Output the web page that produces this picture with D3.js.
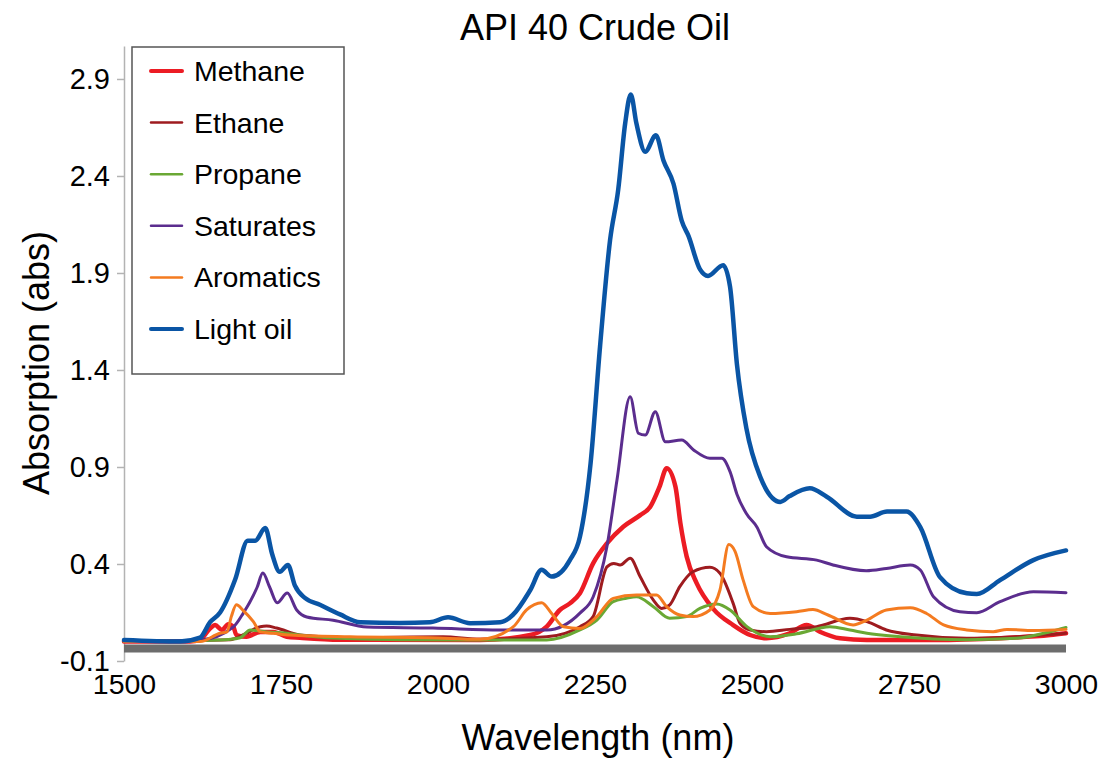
<!DOCTYPE html>
<html>
<head>
<meta charset="utf-8">
<script src="https://cdn.jsdelivr.net/npm/d3@7"></script>
<style>
  html, body { margin: 0; padding: 0; background: #fff; }
  svg { display: block; font-family: "Liberation Sans", Arial, sans-serif; }
</style>
</head>
<body>
<svg id="chart" width="1106" height="761"></svg>
<script>
// Absorption spectra, API 40 crude oil and its components: [wavelength nm, absorbance]
const methane = [
  [1500,0.0],[1605,0.0],[1621,0.01],[1637,0.068],[1645,0.086],[1656,0.06],[1666,0.09],
  [1674,0.077],[1679,0.034],[1695,0.025],[1717,0.05],[1738,0.05],[1759,0.025],[1780,0.02],
  [1844,0.01],[2067,0.008],[2147,0.034],[2173,0.077],[2194,0.163],[2210,0.197],[2226,0.249],
  [2247,0.403],[2269,0.506],[2295,0.592],[2322,0.652],[2338,0.695],[2353,0.80],[2364,0.893],
  [2378,0.80],[2386,0.61],[2396,0.438],[2412,0.30],[2438,0.17],[2470,0.085],[2497,0.034],
  [2523,0.017],[2560,0.043],[2587,0.086],[2608,0.051],[2640,0.017],[2683,0.008],[2788,0.008],
  [2895,0.017],[2975,0.034],[3000,0.043]
];
const ethane = [
  [1500,0.0],[1669,0.01],[1693,0.04],[1717,0.077],[1727,0.08],[1743,0.07],[1780,0.034],
  [1860,0.02],[2008,0.025],[2067,0.012],[2173,0.025],[2226,0.077],[2247,0.129],[2269,0.385],
  [2280,0.403],[2290,0.395],[2306,0.43],[2322,0.334],[2343,0.214],[2356,0.171],[2369,0.189],
  [2385,0.283],[2406,0.36],[2433,0.383],[2449,0.352],[2470,0.197],[2481,0.094],[2497,0.06],
  [2523,0.051],[2560,0.063],[2603,0.077],[2656,0.12],[2683,0.103],[2714,0.06],[2762,0.034],
  [2842,0.017],[2921,0.025],[3000,0.043]
];
const propane = [
  [1500,0.0],[1653,0.008],[1685,0.02],[1701,0.06],[1727,0.05],[1759,0.043],[1780,0.034],
  [1833,0.018],[1939,0.01],[2067,0.008],[2173,0.008],[2226,0.06],[2253,0.111],[2279,0.206],
  [2300,0.223],[2316,0.231],[2343,0.18],[2369,0.12],[2396,0.129],[2417,0.171],[2444,0.194],
  [2465,0.163],[2492,0.077],[2529,0.025],[2571,0.04],[2624,0.077],[2656,0.06],[2683,0.043],
  [2736,0.025],[2842,0.01],[2921,0.017],[2975,0.051],[3000,0.073]
];
const saturates = [
  [1500,0.0],[1621,0.008],[1674,0.075],[1690,0.147],[1712,0.28],[1721,0.353],[1732,0.28],
  [1744,0.20],[1760,0.25],[1775,0.163],[1791,0.127],[1833,0.11],[1887,0.075],[1992,0.07],
  [2099,0.06],[2173,0.06],[2226,0.147],[2247,0.23],[2269,0.49],[2285,0.833],[2306,1.262],
  [2319,1.074],[2330,1.065],[2346,1.185],[2362,1.03],[2388,1.039],[2407,0.988],[2433,0.945],
  [2452,0.945],[2465,0.876],[2476,0.76],[2491,0.66],[2508,0.59],[2523,0.489],[2555,0.437],
  [2603,0.42],[2629,0.395],[2682,0.365],[2714,0.377],[2752,0.395],[2768,0.369],[2789,0.231],
  [2831,0.154],[2858,0.149],[2895,0.206],[2948,0.257],[3000,0.252]
];
const aromatics = [
  [1500,0.0],[1621,0.0],[1653,0.043],[1664,0.05],[1671,0.13],[1679,0.19],[1690,0.16],
  [1706,0.103],[1717,0.05],[1738,0.043],[1764,0.034],[1860,0.025],[1987,0.02],[2067,0.012],
  [2120,0.077],[2141,0.163],[2165,0.2],[2181,0.145],[2200,0.077],[2226,0.068],[2253,0.129],
  [2279,0.223],[2316,0.24],[2348,0.24],[2364,0.18],[2385,0.137],[2406,0.129],[2433,0.163],
  [2449,0.266],[2463,0.50],[2473,0.465],[2486,0.317],[2502,0.18],[2529,0.145],[2571,0.154],
  [2597,0.165],[2621,0.137],[2661,0.086],[2683,0.111],[2714,0.163],[2752,0.175],[2778,0.145],
  [2805,0.086],[2842,0.06],[2884,0.051],[2906,0.063],[2948,0.057],[3000,0.063]
];
const lightOil = [
  [1500,0.008],[1589,0.0],[1621,0.02],[1637,0.10],[1653,0.15],[1677,0.32],[1697,0.52],
  [1709,0.52],[1725,0.585],[1736,0.45],[1748,0.36],[1761,0.395],[1772,0.29],[1788,0.225],
  [1812,0.19],[1844,0.14],[1876,0.10],[1939,0.096],[1987,0.10],[2016,0.125],[2051,0.095],
  [2099,0.10],[2119,0.137],[2147,0.266],[2165,0.37],[2181,0.335],[2210,0.42],[2226,0.54],
  [2243,0.92],[2258,1.52],[2274,2.07],[2287,2.33],[2298,2.67],[2307,2.82],[2316,2.67],
  [2330,2.525],[2347,2.61],[2359,2.48],[2375,2.36],[2388,2.17],[2399,2.09],[2417,1.92],
  [2430,1.885],[2454,1.94],[2465,1.83],[2476,1.43],[2491,1.10],[2513,0.85],[2545,0.72],
  [2560,0.75],[2592,0.79],[2619,0.747],[2667,0.644],[2688,0.644],[2715,0.67],[2746,0.67],
  [2768,0.59],[2799,0.334],[2842,0.249],[2858,0.245],[2895,0.317],[2948,0.42],[3000,0.47]
];
// Instrument reference level drawn as a flat band under the spectra
const baseline = [[1500,-0.035],[3000,-0.035]];

const seriesNames = ["Methane","Ethane","Propane","Saturates","Aromatics","Light oil"];
const seriesData = [methane, ethane, propane, saturates, aromatics, lightOil];
const seriesColors = ["#ec1c24","#9e1b1f","#6aa834","#5b2d8e","#f47b20","#0a55a5"];
const seriesWidths = [4.5, 3, 3, 3, 3, 4.5];

const xTicks = [1500,1750,2000,2250,2500,2750,3000];
const yTicks = [-0.1,0.4,0.9,1.4,1.9,2.4,2.9];

const svg = d3.select("#chart");
const x = d3.scaleLinear().domain([1500,3000]).range([124,1066]);
const y = d3.scaleLinear().domain([-0.1,3.07]).range([661,46]);

// Title
svg.append("text").attr("x",595).attr("y",40).attr("text-anchor","middle")
  .attr("font-size",36).attr("fill","#000").text("API 40 Crude Oil");

// Y axis
const yAxis = svg.append("g").attr("transform","translate(124,0)")
  .call(d3.axisLeft(y).tickValues(yTicks).tickFormat(d => d.toFixed(1))
        .tickSize(7).tickSizeOuter(0).tickPadding(7));
yAxis.select(".domain").attr("stroke","#b3b3b3").attr("stroke-width",1.5);
yAxis.selectAll(".tick line").attr("stroke","#b3b3b3").attr("stroke-width",1.5);
yAxis.selectAll(".tick text").attr("font-size",29).attr("fill","#000")
  .attr("font-family","Liberation Sans, Arial, sans-serif");

// X axis (labels only)
const xAxis = svg.append("g").attr("transform","translate(0,661)")
  .call(d3.axisBottom(x).tickValues(xTicks).tickFormat(d3.format("d"))
        .tickSize(0).tickPadding(13));
xAxis.select(".domain").remove();
xAxis.selectAll(".tick text").attr("font-size",28.5).attr("fill","#000")
  .attr("font-family","Liberation Sans, Arial, sans-serif");

// Axis titles
svg.append("text").attr("x",598).attr("y",750).attr("text-anchor","middle")
  .attr("font-size",36).attr("fill","#000").text("Wavelength (nm)");
svg.append("text").attr("transform","translate(49,363) rotate(-90)")
  .attr("text-anchor","middle").attr("font-size",36).attr("fill","#000")
  .text("Absorption (abs)");

// Spectra
const line = d3.line().x(d => x(d[0])).y(d => y(d[1])).curve(d3.curveMonotoneX);
const plot = svg.append("g");
plot.append("path").datum(baseline).attr("d", line).attr("fill","none")
  .attr("stroke","#6d6d6d").attr("stroke-width",8);
seriesData.forEach((data, i) => {
  plot.append("path").datum(data).attr("d", line).attr("fill","none")
    .attr("stroke", seriesColors[i]).attr("stroke-width", seriesWidths[i])
    .attr("stroke-linejoin","round").attr("stroke-linecap","round");
});

// Legend
const legend = svg.append("g");
legend.append("rect").attr("x",132).attr("y",47).attr("width",212).attr("height",327)
  .attr("fill","#fff").attr("stroke","#555").attr("stroke-width",1.5);
seriesNames.forEach((name, i) => {
  const cy = 71 + i * 51.6;
  legend.append("line").attr("x1",151).attr("x2",182).attr("y1",cy).attr("y2",cy)
    .attr("stroke", seriesColors[i]).attr("stroke-width", seriesWidths[i] - 0.5)
    .attr("stroke-linecap","round");
  legend.append("text").attr("x",194).attr("y",cy + 10).attr("font-size",28.5)
    .attr("fill","#000").text(name);
});
</script>
</body>
</html>
